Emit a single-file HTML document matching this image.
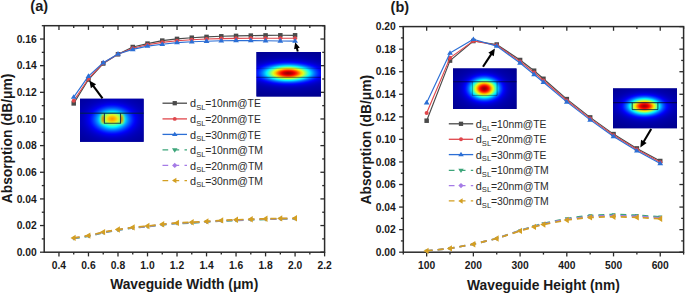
<!DOCTYPE html>
<html><head><meta charset="utf-8"><style>
html,body{margin:0;padding:0;background:#fff;}
body{width:685px;height:294px;overflow:hidden;}
svg{display:block;font-family:"Liberation Sans", sans-serif;}
.tk{font-size:10.3px;font-weight:bold;fill:#1a1a1a;}
.al{font-size:13.8px;font-weight:bold;fill:#1a1a1a;}
.pl{font-size:14.5px;font-weight:bold;fill:#1a1a1a;}
.lg{font-size:10.9px;fill:#2a2a2a;}
.sub{font-size:7.6px;}
</style></head><body>
<svg width="685" height="294" viewBox="0 0 685 294">
<defs><radialGradient id="g1" cx="0.5" cy="0.5" r="0.5"><stop offset="0.0" stop-color="#e5ff19"/><stop offset="0.025" stop-color="#dfff1f"/><stop offset="0.05" stop-color="#cdff31"/><stop offset="0.075" stop-color="#b1ff4d"/><stop offset="0.1" stop-color="#8cff72"/><stop offset="0.125" stop-color="#60ff9e"/><stop offset="0.15" stop-color="#31ffcd"/><stop offset="0.175" stop-color="#00feff"/><stop offset="0.2" stop-color="#00ceff"/><stop offset="0.225" stop-color="#009fff"/><stop offset="0.25" stop-color="#0074ff"/><stop offset="0.275" stop-color="#004eff"/><stop offset="0.3" stop-color="#002dff"/><stop offset="0.325" stop-color="#0011ff"/><stop offset="0.35" stop-color="#0000f8"/><stop offset="0.375" stop-color="#0000e6"/><stop offset="0.4" stop-color="#0000d7"/><stop offset="0.425" stop-color="#0000cb"/><stop offset="0.45" stop-color="#0000c1"/><stop offset="0.475" stop-color="#0000ba"/><stop offset="0.5" stop-color="#0000b4"/><stop offset="0.525" stop-color="#0000af"/><stop offset="0.55" stop-color="#0000ab"/><stop offset="0.575" stop-color="#0000a7"/><stop offset="0.6" stop-color="#0000a4"/><stop offset="0.625" stop-color="#0000a1"/><stop offset="0.65" stop-color="#00009f"/><stop offset="0.675" stop-color="#00009c"/><stop offset="0.7" stop-color="#00009a"/><stop offset="0.725" stop-color="#000098"/><stop offset="0.75" stop-color="#000096"/><stop offset="0.775" stop-color="#000095"/><stop offset="0.8" stop-color="#000093"/><stop offset="0.825" stop-color="#000091"/><stop offset="0.85" stop-color="#000090"/><stop offset="0.875" stop-color="#00008e"/><stop offset="0.9" stop-color="#00008d"/><stop offset="0.925" stop-color="#00008c"/><stop offset="0.95" stop-color="#00008b"/><stop offset="0.975" stop-color="#00008a"/><stop offset="1.0" stop-color="#000089"/></radialGradient><clipPath id="c1"><rect x="80" y="98.8" width="63.6" height="43"/></clipPath><clipPath id="corec"><rect x="104.4" y="113.6" width="16.2" height="9.7"/></clipPath><radialGradient id="core1"><stop offset="0" stop-color="#ff9000"/><stop offset="0.3" stop-color="#ffb800"/><stop offset="0.6" stop-color="#e8f020"/><stop offset="0.85" stop-color="#a0ff60"/><stop offset="1" stop-color="#60ffa0"/></radialGradient><filter id="bl1" x="-100%" y="-50%" width="300%" height="200%"><feGaussianBlur stdDeviation="0.8"/></filter><radialGradient id="g2" cx="0.5" cy="0.5" r="0.5"><stop offset="0.0" stop-color="#9e0000"/><stop offset="0.025" stop-color="#a80000"/><stop offset="0.05" stop-color="#c60000"/><stop offset="0.075" stop-color="#f60000"/><stop offset="0.1" stop-color="#ff3600"/><stop offset="0.125" stop-color="#ff8000"/><stop offset="0.15" stop-color="#ffd000"/><stop offset="0.175" stop-color="#d9ff25"/><stop offset="0.2" stop-color="#86ff78"/><stop offset="0.225" stop-color="#38ffc6"/><stop offset="0.25" stop-color="#00efff"/><stop offset="0.275" stop-color="#00afff"/><stop offset="0.3" stop-color="#0077ff"/><stop offset="0.325" stop-color="#0049ff"/><stop offset="0.35" stop-color="#0023ff"/><stop offset="0.375" stop-color="#0005ff"/><stop offset="0.4" stop-color="#0000ec"/><stop offset="0.425" stop-color="#0000d9"/><stop offset="0.45" stop-color="#0000cb"/><stop offset="0.475" stop-color="#0000c0"/><stop offset="0.5" stop-color="#0000b8"/><stop offset="0.525" stop-color="#0000b1"/><stop offset="0.55" stop-color="#0000ac"/><stop offset="0.575" stop-color="#0000a8"/><stop offset="0.6" stop-color="#0000a5"/><stop offset="0.625" stop-color="#0000a2"/><stop offset="0.65" stop-color="#00009f"/><stop offset="0.675" stop-color="#00009d"/><stop offset="0.7" stop-color="#00009a"/><stop offset="0.725" stop-color="#000098"/><stop offset="0.75" stop-color="#000096"/><stop offset="0.775" stop-color="#000095"/><stop offset="0.8" stop-color="#000093"/><stop offset="0.825" stop-color="#000091"/><stop offset="0.85" stop-color="#000090"/><stop offset="0.875" stop-color="#00008e"/><stop offset="0.9" stop-color="#00008d"/><stop offset="0.925" stop-color="#00008c"/><stop offset="0.95" stop-color="#00008b"/><stop offset="0.975" stop-color="#00008a"/><stop offset="1.0" stop-color="#000089"/></radialGradient><clipPath id="c2"><rect x="256.5" y="52" width="64.5" height="44.4"/></clipPath><radialGradient id="g3" cx="0.5" cy="0.5" r="0.5"><stop offset="0.0" stop-color="#9e0000"/><stop offset="0.025" stop-color="#a80000"/><stop offset="0.05" stop-color="#c60000"/><stop offset="0.075" stop-color="#f60000"/><stop offset="0.1" stop-color="#ff3600"/><stop offset="0.125" stop-color="#ff8000"/><stop offset="0.15" stop-color="#ffd000"/><stop offset="0.175" stop-color="#d9ff25"/><stop offset="0.2" stop-color="#86ff78"/><stop offset="0.225" stop-color="#38ffc6"/><stop offset="0.25" stop-color="#00efff"/><stop offset="0.275" stop-color="#00afff"/><stop offset="0.3" stop-color="#0077ff"/><stop offset="0.325" stop-color="#0049ff"/><stop offset="0.35" stop-color="#0023ff"/><stop offset="0.375" stop-color="#0005ff"/><stop offset="0.4" stop-color="#0000ec"/><stop offset="0.425" stop-color="#0000d9"/><stop offset="0.45" stop-color="#0000cb"/><stop offset="0.475" stop-color="#0000c0"/><stop offset="0.5" stop-color="#0000b8"/><stop offset="0.525" stop-color="#0000b1"/><stop offset="0.55" stop-color="#0000ac"/><stop offset="0.575" stop-color="#0000a8"/><stop offset="0.6" stop-color="#0000a5"/><stop offset="0.625" stop-color="#0000a2"/><stop offset="0.65" stop-color="#00009f"/><stop offset="0.675" stop-color="#00009d"/><stop offset="0.7" stop-color="#00009a"/><stop offset="0.725" stop-color="#000098"/><stop offset="0.75" stop-color="#000096"/><stop offset="0.775" stop-color="#000095"/><stop offset="0.8" stop-color="#000093"/><stop offset="0.825" stop-color="#000091"/><stop offset="0.85" stop-color="#000090"/><stop offset="0.875" stop-color="#00008e"/><stop offset="0.9" stop-color="#00008d"/><stop offset="0.925" stop-color="#00008c"/><stop offset="0.95" stop-color="#00008b"/><stop offset="0.975" stop-color="#00008a"/><stop offset="1.0" stop-color="#000089"/></radialGradient><clipPath id="c3"><rect x="453" y="68.5" width="63.5" height="40.5"/></clipPath><radialGradient id="g4" cx="0.5" cy="0.5" r="0.5"><stop offset="0.0" stop-color="#a80000"/><stop offset="0.025" stop-color="#b20000"/><stop offset="0.05" stop-color="#d00000"/><stop offset="0.075" stop-color="#ff0000"/><stop offset="0.1" stop-color="#ff3e00"/><stop offset="0.125" stop-color="#ff8700"/><stop offset="0.15" stop-color="#ffd700"/><stop offset="0.175" stop-color="#d3ff2b"/><stop offset="0.2" stop-color="#81ff7d"/><stop offset="0.225" stop-color="#34ffca"/><stop offset="0.25" stop-color="#00ebff"/><stop offset="0.275" stop-color="#00acff"/><stop offset="0.3" stop-color="#0075ff"/><stop offset="0.325" stop-color="#0048ff"/><stop offset="0.35" stop-color="#0022ff"/><stop offset="0.375" stop-color="#0004ff"/><stop offset="0.4" stop-color="#0000eb"/><stop offset="0.425" stop-color="#0000d9"/><stop offset="0.45" stop-color="#0000cb"/><stop offset="0.475" stop-color="#0000c0"/><stop offset="0.5" stop-color="#0000b8"/><stop offset="0.525" stop-color="#0000b1"/><stop offset="0.55" stop-color="#0000ac"/><stop offset="0.575" stop-color="#0000a8"/><stop offset="0.6" stop-color="#0000a5"/><stop offset="0.625" stop-color="#0000a2"/><stop offset="0.65" stop-color="#00009f"/><stop offset="0.675" stop-color="#00009d"/><stop offset="0.7" stop-color="#00009a"/><stop offset="0.725" stop-color="#000098"/><stop offset="0.75" stop-color="#000096"/><stop offset="0.775" stop-color="#000095"/><stop offset="0.8" stop-color="#000093"/><stop offset="0.825" stop-color="#000091"/><stop offset="0.85" stop-color="#000090"/><stop offset="0.875" stop-color="#00008e"/><stop offset="0.9" stop-color="#00008d"/><stop offset="0.925" stop-color="#00008c"/><stop offset="0.95" stop-color="#00008b"/><stop offset="0.975" stop-color="#00008a"/><stop offset="1.0" stop-color="#000089"/></radialGradient><clipPath id="c4"><rect x="613" y="88.4" width="64" height="39.8"/></clipPath></defs>
<rect x="44.2" y="25.7" width="280.40" height="226.50" fill="none" stroke="#2b2b2b" stroke-width="1.5"/>
<line x1="58.96" y1="252.2" x2="58.96" y2="256.4" stroke="#2b2b2b" stroke-width="1.3"/>
<line x1="58.96" y1="25.7" x2="58.96" y2="29.9" stroke="#2b2b2b" stroke-width="1.3"/>
<text x="58.96" y="268.8" class="tk" text-anchor="middle">0.4</text>
<line x1="88.47" y1="252.2" x2="88.47" y2="256.4" stroke="#2b2b2b" stroke-width="1.3"/>
<line x1="88.47" y1="25.7" x2="88.47" y2="29.9" stroke="#2b2b2b" stroke-width="1.3"/>
<text x="88.47" y="268.8" class="tk" text-anchor="middle">0.6</text>
<line x1="117.99" y1="252.2" x2="117.99" y2="256.4" stroke="#2b2b2b" stroke-width="1.3"/>
<line x1="117.99" y1="25.7" x2="117.99" y2="29.9" stroke="#2b2b2b" stroke-width="1.3"/>
<text x="117.99" y="268.8" class="tk" text-anchor="middle">0.8</text>
<line x1="147.51" y1="252.2" x2="147.51" y2="256.4" stroke="#2b2b2b" stroke-width="1.3"/>
<line x1="147.51" y1="25.7" x2="147.51" y2="29.9" stroke="#2b2b2b" stroke-width="1.3"/>
<text x="147.51" y="268.8" class="tk" text-anchor="middle">1.0</text>
<line x1="177.02" y1="252.2" x2="177.02" y2="256.4" stroke="#2b2b2b" stroke-width="1.3"/>
<line x1="177.02" y1="25.7" x2="177.02" y2="29.9" stroke="#2b2b2b" stroke-width="1.3"/>
<text x="177.02" y="268.8" class="tk" text-anchor="middle">1.2</text>
<line x1="206.54" y1="252.2" x2="206.54" y2="256.4" stroke="#2b2b2b" stroke-width="1.3"/>
<line x1="206.54" y1="25.7" x2="206.54" y2="29.9" stroke="#2b2b2b" stroke-width="1.3"/>
<text x="206.54" y="268.8" class="tk" text-anchor="middle">1.4</text>
<line x1="236.05" y1="252.2" x2="236.05" y2="256.4" stroke="#2b2b2b" stroke-width="1.3"/>
<line x1="236.05" y1="25.7" x2="236.05" y2="29.9" stroke="#2b2b2b" stroke-width="1.3"/>
<text x="236.05" y="268.8" class="tk" text-anchor="middle">1.6</text>
<line x1="265.57" y1="252.2" x2="265.57" y2="256.4" stroke="#2b2b2b" stroke-width="1.3"/>
<line x1="265.57" y1="25.7" x2="265.57" y2="29.9" stroke="#2b2b2b" stroke-width="1.3"/>
<text x="265.57" y="268.8" class="tk" text-anchor="middle">1.8</text>
<line x1="295.08" y1="252.2" x2="295.08" y2="256.4" stroke="#2b2b2b" stroke-width="1.3"/>
<line x1="295.08" y1="25.7" x2="295.08" y2="29.9" stroke="#2b2b2b" stroke-width="1.3"/>
<text x="295.08" y="268.8" class="tk" text-anchor="middle">2.0</text>
<line x1="324.60" y1="252.2" x2="324.60" y2="256.4" stroke="#2b2b2b" stroke-width="1.3"/>
<line x1="324.60" y1="25.7" x2="324.60" y2="29.9" stroke="#2b2b2b" stroke-width="1.3"/>
<text x="324.60" y="268.8" class="tk" text-anchor="middle">2.2</text>
<line x1="73.72" y1="252.2" x2="73.72" y2="254.6" stroke="#2b2b2b" stroke-width="1.3"/>
<line x1="73.72" y1="25.7" x2="73.72" y2="28.099999999999998" stroke="#2b2b2b" stroke-width="1.3"/>
<line x1="103.23" y1="252.2" x2="103.23" y2="254.6" stroke="#2b2b2b" stroke-width="1.3"/>
<line x1="103.23" y1="25.7" x2="103.23" y2="28.099999999999998" stroke="#2b2b2b" stroke-width="1.3"/>
<line x1="132.75" y1="252.2" x2="132.75" y2="254.6" stroke="#2b2b2b" stroke-width="1.3"/>
<line x1="132.75" y1="25.7" x2="132.75" y2="28.099999999999998" stroke="#2b2b2b" stroke-width="1.3"/>
<line x1="162.26" y1="252.2" x2="162.26" y2="254.6" stroke="#2b2b2b" stroke-width="1.3"/>
<line x1="162.26" y1="25.7" x2="162.26" y2="28.099999999999998" stroke="#2b2b2b" stroke-width="1.3"/>
<line x1="191.78" y1="252.2" x2="191.78" y2="254.6" stroke="#2b2b2b" stroke-width="1.3"/>
<line x1="191.78" y1="25.7" x2="191.78" y2="28.099999999999998" stroke="#2b2b2b" stroke-width="1.3"/>
<line x1="221.29" y1="252.2" x2="221.29" y2="254.6" stroke="#2b2b2b" stroke-width="1.3"/>
<line x1="221.29" y1="25.7" x2="221.29" y2="28.099999999999998" stroke="#2b2b2b" stroke-width="1.3"/>
<line x1="250.81" y1="252.2" x2="250.81" y2="254.6" stroke="#2b2b2b" stroke-width="1.3"/>
<line x1="250.81" y1="25.7" x2="250.81" y2="28.099999999999998" stroke="#2b2b2b" stroke-width="1.3"/>
<line x1="280.33" y1="252.2" x2="280.33" y2="254.6" stroke="#2b2b2b" stroke-width="1.3"/>
<line x1="280.33" y1="25.7" x2="280.33" y2="28.099999999999998" stroke="#2b2b2b" stroke-width="1.3"/>
<line x1="309.84" y1="252.2" x2="309.84" y2="254.6" stroke="#2b2b2b" stroke-width="1.3"/>
<line x1="309.84" y1="25.7" x2="309.84" y2="28.099999999999998" stroke="#2b2b2b" stroke-width="1.3"/>
<line x1="40.0" y1="252.20" x2="44.2" y2="252.20" stroke="#2b2b2b" stroke-width="1.3"/>
<line x1="320.40000000000003" y1="252.20" x2="324.6" y2="252.20" stroke="#2b2b2b" stroke-width="1.3"/>
<text x="36.70" y="255.90" class="tk" text-anchor="end">0.00</text>
<line x1="40.0" y1="225.55" x2="44.2" y2="225.55" stroke="#2b2b2b" stroke-width="1.3"/>
<line x1="320.40000000000003" y1="225.55" x2="324.6" y2="225.55" stroke="#2b2b2b" stroke-width="1.3"/>
<text x="36.70" y="229.25" class="tk" text-anchor="end">0.02</text>
<line x1="40.0" y1="198.91" x2="44.2" y2="198.91" stroke="#2b2b2b" stroke-width="1.3"/>
<line x1="320.40000000000003" y1="198.91" x2="324.6" y2="198.91" stroke="#2b2b2b" stroke-width="1.3"/>
<text x="36.70" y="202.61" class="tk" text-anchor="end">0.04</text>
<line x1="40.0" y1="172.26" x2="44.2" y2="172.26" stroke="#2b2b2b" stroke-width="1.3"/>
<line x1="320.40000000000003" y1="172.26" x2="324.6" y2="172.26" stroke="#2b2b2b" stroke-width="1.3"/>
<text x="36.70" y="175.96" class="tk" text-anchor="end">0.06</text>
<line x1="40.0" y1="145.61" x2="44.2" y2="145.61" stroke="#2b2b2b" stroke-width="1.3"/>
<line x1="320.40000000000003" y1="145.61" x2="324.6" y2="145.61" stroke="#2b2b2b" stroke-width="1.3"/>
<text x="36.70" y="149.31" class="tk" text-anchor="end">0.08</text>
<line x1="40.0" y1="118.96" x2="44.2" y2="118.96" stroke="#2b2b2b" stroke-width="1.3"/>
<line x1="320.40000000000003" y1="118.96" x2="324.6" y2="118.96" stroke="#2b2b2b" stroke-width="1.3"/>
<text x="36.70" y="122.66" class="tk" text-anchor="end">0.10</text>
<line x1="40.0" y1="92.32" x2="44.2" y2="92.32" stroke="#2b2b2b" stroke-width="1.3"/>
<line x1="320.40000000000003" y1="92.32" x2="324.6" y2="92.32" stroke="#2b2b2b" stroke-width="1.3"/>
<text x="36.70" y="96.02" class="tk" text-anchor="end">0.12</text>
<line x1="40.0" y1="65.67" x2="44.2" y2="65.67" stroke="#2b2b2b" stroke-width="1.3"/>
<line x1="320.40000000000003" y1="65.67" x2="324.6" y2="65.67" stroke="#2b2b2b" stroke-width="1.3"/>
<text x="36.70" y="69.37" class="tk" text-anchor="end">0.14</text>
<line x1="40.0" y1="39.02" x2="44.2" y2="39.02" stroke="#2b2b2b" stroke-width="1.3"/>
<line x1="320.40000000000003" y1="39.02" x2="324.6" y2="39.02" stroke="#2b2b2b" stroke-width="1.3"/>
<text x="36.70" y="42.72" class="tk" text-anchor="end">0.16</text>
<line x1="41.800000000000004" y1="238.88" x2="44.2" y2="238.88" stroke="#2b2b2b" stroke-width="1.3"/>
<line x1="322.20000000000005" y1="238.88" x2="324.6" y2="238.88" stroke="#2b2b2b" stroke-width="1.3"/>
<line x1="41.800000000000004" y1="212.23" x2="44.2" y2="212.23" stroke="#2b2b2b" stroke-width="1.3"/>
<line x1="322.20000000000005" y1="212.23" x2="324.6" y2="212.23" stroke="#2b2b2b" stroke-width="1.3"/>
<line x1="41.800000000000004" y1="185.58" x2="44.2" y2="185.58" stroke="#2b2b2b" stroke-width="1.3"/>
<line x1="322.20000000000005" y1="185.58" x2="324.6" y2="185.58" stroke="#2b2b2b" stroke-width="1.3"/>
<line x1="41.800000000000004" y1="158.94" x2="44.2" y2="158.94" stroke="#2b2b2b" stroke-width="1.3"/>
<line x1="322.20000000000005" y1="158.94" x2="324.6" y2="158.94" stroke="#2b2b2b" stroke-width="1.3"/>
<line x1="41.800000000000004" y1="132.29" x2="44.2" y2="132.29" stroke="#2b2b2b" stroke-width="1.3"/>
<line x1="322.20000000000005" y1="132.29" x2="324.6" y2="132.29" stroke="#2b2b2b" stroke-width="1.3"/>
<line x1="41.800000000000004" y1="105.64" x2="44.2" y2="105.64" stroke="#2b2b2b" stroke-width="1.3"/>
<line x1="322.20000000000005" y1="105.64" x2="324.6" y2="105.64" stroke="#2b2b2b" stroke-width="1.3"/>
<line x1="41.800000000000004" y1="78.99" x2="44.2" y2="78.99" stroke="#2b2b2b" stroke-width="1.3"/>
<line x1="322.20000000000005" y1="78.99" x2="324.6" y2="78.99" stroke="#2b2b2b" stroke-width="1.3"/>
<line x1="41.800000000000004" y1="52.35" x2="44.2" y2="52.35" stroke="#2b2b2b" stroke-width="1.3"/>
<line x1="322.20000000000005" y1="52.35" x2="324.6" y2="52.35" stroke="#2b2b2b" stroke-width="1.3"/>
<line x1="41.800000000000004" y1="25.70" x2="44.2" y2="25.70" stroke="#2b2b2b" stroke-width="1.3"/>
<line x1="322.20000000000005" y1="25.70" x2="324.6" y2="25.70" stroke="#2b2b2b" stroke-width="1.3"/>
<rect x="403.3" y="26.6" width="280.30" height="225.60" fill="none" stroke="#2b2b2b" stroke-width="1.5"/>
<line x1="426.66" y1="252.2" x2="426.66" y2="256.4" stroke="#2b2b2b" stroke-width="1.3"/>
<line x1="426.66" y1="26.6" x2="426.66" y2="30.8" stroke="#2b2b2b" stroke-width="1.3"/>
<text x="426.66" y="268.8" class="tk" text-anchor="middle">100</text>
<line x1="473.38" y1="252.2" x2="473.38" y2="256.4" stroke="#2b2b2b" stroke-width="1.3"/>
<line x1="473.38" y1="26.6" x2="473.38" y2="30.8" stroke="#2b2b2b" stroke-width="1.3"/>
<text x="473.38" y="268.8" class="tk" text-anchor="middle">200</text>
<line x1="520.09" y1="252.2" x2="520.09" y2="256.4" stroke="#2b2b2b" stroke-width="1.3"/>
<line x1="520.09" y1="26.6" x2="520.09" y2="30.8" stroke="#2b2b2b" stroke-width="1.3"/>
<text x="520.09" y="268.8" class="tk" text-anchor="middle">300</text>
<line x1="566.81" y1="252.2" x2="566.81" y2="256.4" stroke="#2b2b2b" stroke-width="1.3"/>
<line x1="566.81" y1="26.6" x2="566.81" y2="30.8" stroke="#2b2b2b" stroke-width="1.3"/>
<text x="566.81" y="268.8" class="tk" text-anchor="middle">400</text>
<line x1="613.53" y1="252.2" x2="613.53" y2="256.4" stroke="#2b2b2b" stroke-width="1.3"/>
<line x1="613.53" y1="26.6" x2="613.53" y2="30.8" stroke="#2b2b2b" stroke-width="1.3"/>
<text x="613.53" y="268.8" class="tk" text-anchor="middle">500</text>
<line x1="660.24" y1="252.2" x2="660.24" y2="256.4" stroke="#2b2b2b" stroke-width="1.3"/>
<line x1="660.24" y1="26.6" x2="660.24" y2="30.8" stroke="#2b2b2b" stroke-width="1.3"/>
<text x="660.24" y="268.8" class="tk" text-anchor="middle">600</text>
<line x1="403.30" y1="252.2" x2="403.30" y2="254.6" stroke="#2b2b2b" stroke-width="1.3"/>
<line x1="403.30" y1="26.6" x2="403.30" y2="29.0" stroke="#2b2b2b" stroke-width="1.3"/>
<line x1="450.02" y1="252.2" x2="450.02" y2="254.6" stroke="#2b2b2b" stroke-width="1.3"/>
<line x1="450.02" y1="26.6" x2="450.02" y2="29.0" stroke="#2b2b2b" stroke-width="1.3"/>
<line x1="496.73" y1="252.2" x2="496.73" y2="254.6" stroke="#2b2b2b" stroke-width="1.3"/>
<line x1="496.73" y1="26.6" x2="496.73" y2="29.0" stroke="#2b2b2b" stroke-width="1.3"/>
<line x1="543.45" y1="252.2" x2="543.45" y2="254.6" stroke="#2b2b2b" stroke-width="1.3"/>
<line x1="543.45" y1="26.6" x2="543.45" y2="29.0" stroke="#2b2b2b" stroke-width="1.3"/>
<line x1="590.17" y1="252.2" x2="590.17" y2="254.6" stroke="#2b2b2b" stroke-width="1.3"/>
<line x1="590.17" y1="26.6" x2="590.17" y2="29.0" stroke="#2b2b2b" stroke-width="1.3"/>
<line x1="636.88" y1="252.2" x2="636.88" y2="254.6" stroke="#2b2b2b" stroke-width="1.3"/>
<line x1="636.88" y1="26.6" x2="636.88" y2="29.0" stroke="#2b2b2b" stroke-width="1.3"/>
<line x1="683.60" y1="252.2" x2="683.60" y2="254.6" stroke="#2b2b2b" stroke-width="1.3"/>
<line x1="683.60" y1="26.6" x2="683.60" y2="29.0" stroke="#2b2b2b" stroke-width="1.3"/>
<line x1="399.1" y1="252.20" x2="403.3" y2="252.20" stroke="#2b2b2b" stroke-width="1.3"/>
<line x1="679.4" y1="252.20" x2="683.6" y2="252.20" stroke="#2b2b2b" stroke-width="1.3"/>
<text x="395.80" y="255.90" class="tk" text-anchor="end">0.00</text>
<line x1="399.1" y1="229.64" x2="403.3" y2="229.64" stroke="#2b2b2b" stroke-width="1.3"/>
<line x1="679.4" y1="229.64" x2="683.6" y2="229.64" stroke="#2b2b2b" stroke-width="1.3"/>
<text x="395.80" y="233.34" class="tk" text-anchor="end">0.02</text>
<line x1="399.1" y1="207.08" x2="403.3" y2="207.08" stroke="#2b2b2b" stroke-width="1.3"/>
<line x1="679.4" y1="207.08" x2="683.6" y2="207.08" stroke="#2b2b2b" stroke-width="1.3"/>
<text x="395.80" y="210.78" class="tk" text-anchor="end">0.04</text>
<line x1="399.1" y1="184.52" x2="403.3" y2="184.52" stroke="#2b2b2b" stroke-width="1.3"/>
<line x1="679.4" y1="184.52" x2="683.6" y2="184.52" stroke="#2b2b2b" stroke-width="1.3"/>
<text x="395.80" y="188.22" class="tk" text-anchor="end">0.06</text>
<line x1="399.1" y1="161.96" x2="403.3" y2="161.96" stroke="#2b2b2b" stroke-width="1.3"/>
<line x1="679.4" y1="161.96" x2="683.6" y2="161.96" stroke="#2b2b2b" stroke-width="1.3"/>
<text x="395.80" y="165.66" class="tk" text-anchor="end">0.08</text>
<line x1="399.1" y1="139.40" x2="403.3" y2="139.40" stroke="#2b2b2b" stroke-width="1.3"/>
<line x1="679.4" y1="139.40" x2="683.6" y2="139.40" stroke="#2b2b2b" stroke-width="1.3"/>
<text x="395.80" y="143.10" class="tk" text-anchor="end">0.10</text>
<line x1="399.1" y1="116.84" x2="403.3" y2="116.84" stroke="#2b2b2b" stroke-width="1.3"/>
<line x1="679.4" y1="116.84" x2="683.6" y2="116.84" stroke="#2b2b2b" stroke-width="1.3"/>
<text x="395.80" y="120.54" class="tk" text-anchor="end">0.12</text>
<line x1="399.1" y1="94.28" x2="403.3" y2="94.28" stroke="#2b2b2b" stroke-width="1.3"/>
<line x1="679.4" y1="94.28" x2="683.6" y2="94.28" stroke="#2b2b2b" stroke-width="1.3"/>
<text x="395.80" y="97.98" class="tk" text-anchor="end">0.14</text>
<line x1="399.1" y1="71.72" x2="403.3" y2="71.72" stroke="#2b2b2b" stroke-width="1.3"/>
<line x1="679.4" y1="71.72" x2="683.6" y2="71.72" stroke="#2b2b2b" stroke-width="1.3"/>
<text x="395.80" y="75.42" class="tk" text-anchor="end">0.16</text>
<line x1="399.1" y1="49.16" x2="403.3" y2="49.16" stroke="#2b2b2b" stroke-width="1.3"/>
<line x1="679.4" y1="49.16" x2="683.6" y2="49.16" stroke="#2b2b2b" stroke-width="1.3"/>
<text x="395.80" y="52.86" class="tk" text-anchor="end">0.18</text>
<line x1="399.1" y1="26.60" x2="403.3" y2="26.60" stroke="#2b2b2b" stroke-width="1.3"/>
<line x1="679.4" y1="26.60" x2="683.6" y2="26.60" stroke="#2b2b2b" stroke-width="1.3"/>
<text x="395.80" y="30.30" class="tk" text-anchor="end">0.20</text>
<line x1="400.90000000000003" y1="240.92" x2="403.3" y2="240.92" stroke="#2b2b2b" stroke-width="1.3"/>
<line x1="681.2" y1="240.92" x2="683.6" y2="240.92" stroke="#2b2b2b" stroke-width="1.3"/>
<line x1="400.90000000000003" y1="218.36" x2="403.3" y2="218.36" stroke="#2b2b2b" stroke-width="1.3"/>
<line x1="681.2" y1="218.36" x2="683.6" y2="218.36" stroke="#2b2b2b" stroke-width="1.3"/>
<line x1="400.90000000000003" y1="195.80" x2="403.3" y2="195.80" stroke="#2b2b2b" stroke-width="1.3"/>
<line x1="681.2" y1="195.80" x2="683.6" y2="195.80" stroke="#2b2b2b" stroke-width="1.3"/>
<line x1="400.90000000000003" y1="173.24" x2="403.3" y2="173.24" stroke="#2b2b2b" stroke-width="1.3"/>
<line x1="681.2" y1="173.24" x2="683.6" y2="173.24" stroke="#2b2b2b" stroke-width="1.3"/>
<line x1="400.90000000000003" y1="150.68" x2="403.3" y2="150.68" stroke="#2b2b2b" stroke-width="1.3"/>
<line x1="681.2" y1="150.68" x2="683.6" y2="150.68" stroke="#2b2b2b" stroke-width="1.3"/>
<line x1="400.90000000000003" y1="128.12" x2="403.3" y2="128.12" stroke="#2b2b2b" stroke-width="1.3"/>
<line x1="681.2" y1="128.12" x2="683.6" y2="128.12" stroke="#2b2b2b" stroke-width="1.3"/>
<line x1="400.90000000000003" y1="105.56" x2="403.3" y2="105.56" stroke="#2b2b2b" stroke-width="1.3"/>
<line x1="681.2" y1="105.56" x2="683.6" y2="105.56" stroke="#2b2b2b" stroke-width="1.3"/>
<line x1="400.90000000000003" y1="83.00" x2="403.3" y2="83.00" stroke="#2b2b2b" stroke-width="1.3"/>
<line x1="681.2" y1="83.00" x2="683.6" y2="83.00" stroke="#2b2b2b" stroke-width="1.3"/>
<line x1="400.90000000000003" y1="60.44" x2="403.3" y2="60.44" stroke="#2b2b2b" stroke-width="1.3"/>
<line x1="681.2" y1="60.44" x2="683.6" y2="60.44" stroke="#2b2b2b" stroke-width="1.3"/>
<line x1="400.90000000000003" y1="37.88" x2="403.3" y2="37.88" stroke="#2b2b2b" stroke-width="1.3"/>
<line x1="681.2" y1="37.88" x2="683.6" y2="37.88" stroke="#2b2b2b" stroke-width="1.3"/>
<rect x="80" y="98.8" width="63.6" height="43" fill="#000089"/>
<ellipse clip-path="url(#c1)" cx="112.3" cy="119.4" rx="66.00" ry="43.20" fill="url(#g1)"/>
<ellipse cx="103.3" cy="119" rx="2.6" ry="5.2" fill="#e8f000" fill-opacity="0.75" filter="url(#bl1)"/>
<ellipse cx="121.4" cy="119" rx="2.6" ry="5.2" fill="#e8f000" fill-opacity="0.75" filter="url(#bl1)"/>
<ellipse cx="103.4" cy="119" rx="1.1" ry="3.8" fill="#d85000" filter="url(#bl1)"/>
<ellipse cx="121.3" cy="119" rx="1.1" ry="3.8" fill="#d85000" filter="url(#bl1)"/>
<ellipse clip-path="url(#corec)" cx="112.2" cy="118.9" rx="9.5" ry="6.4" fill="url(#core1)"/>
<rect x="80" y="98.8" width="63.6" height="14.6" fill="#0000c0" fill-opacity="0.08"/>
<line x1="80" y1="113.3" x2="143.6" y2="113.3" stroke="#00204a" stroke-opacity="0.7" stroke-width="1.5"/>
<path d="M104.4,113.3V123.2H120.5V113.3" fill="none" stroke="#06163a" stroke-opacity="0.8" stroke-width="1.1"/>
<rect x="256.5" y="52" width="64.5" height="44.4" fill="#000089"/>
<ellipse clip-path="url(#c2)" cx="288.2" cy="73.2" rx="87.00" ry="29.40" fill="url(#g2)"/>
<line x1="256.5" y1="68.4" x2="321" y2="68.4" stroke="#00003a" stroke-opacity="0.2" stroke-width="0.9"/>
<line x1="256.5" y1="77.3" x2="321" y2="77.3" stroke="#00003a" stroke-opacity="0.55" stroke-width="1.0"/>
<rect x="453" y="68.5" width="63.5" height="40.5" fill="#000089"/>
<ellipse clip-path="url(#c3)" cx="484.3" cy="88.6" rx="51.60" ry="36.60" fill="url(#g3)"/>
<line x1="453" y1="81.7" x2="516.5" y2="81.7" stroke="#00003a" stroke-opacity="0.7" stroke-width="1.1"/>
<path d="M472.3,81.7V95.4H497.1V81.7" fill="none" stroke="#06163a" stroke-opacity="0.5" stroke-width="0.9"/>
<rect x="613" y="88.4" width="64" height="39.8" fill="#000089"/>
<ellipse clip-path="url(#c4)" cx="644.5" cy="106.2" rx="60.00" ry="30.60" fill="url(#g4)"/>
<line x1="613" y1="102.6" x2="677" y2="102.6" stroke="#00003a" stroke-opacity="0.7" stroke-width="1.1"/>
<path d="M632.2,102.6V109.6H657.9000000000001V102.6" fill="none" stroke="#06163a" stroke-opacity="0.8" stroke-width="1.0"/>
<path d="M73.72,238.50L88.47,236.20L103.23,232.70L117.99,230.10L132.75,228.00L147.51,226.60L162.26,224.90L177.02,223.50L191.78,222.90L206.54,222.00L221.29,221.00L236.05,220.40L250.81,219.80L265.57,219.40L280.33,219.00L295.08,218.80" fill="none" stroke="#3da57a" stroke-width="1.7" stroke-linejoin="round" stroke-dasharray="6 5"/>
<path d="M73.72,240.53L75.75,237.28L71.69,237.28Z" fill="#3da57a"/>
<path d="M88.47,238.23L90.50,234.98L86.44,234.98Z" fill="#3da57a"/>
<path d="M103.23,234.73L105.26,231.48L101.20,231.48Z" fill="#3da57a"/>
<path d="M117.99,232.13L120.02,228.88L115.96,228.88Z" fill="#3da57a"/>
<path d="M132.75,230.03L134.78,226.78L130.72,226.78Z" fill="#3da57a"/>
<path d="M147.51,228.63L149.54,225.38L145.48,225.38Z" fill="#3da57a"/>
<path d="M162.26,226.93L164.29,223.68L160.23,223.68Z" fill="#3da57a"/>
<path d="M177.02,225.53L179.05,222.28L174.99,222.28Z" fill="#3da57a"/>
<path d="M191.78,224.93L193.81,221.68L189.75,221.68Z" fill="#3da57a"/>
<path d="M206.54,224.03L208.57,220.78L204.51,220.78Z" fill="#3da57a"/>
<path d="M221.29,223.03L223.32,219.78L219.26,219.78Z" fill="#3da57a"/>
<path d="M236.05,222.43L238.08,219.18L234.02,219.18Z" fill="#3da57a"/>
<path d="M250.81,221.83L252.84,218.58L248.78,218.58Z" fill="#3da57a"/>
<path d="M265.57,221.43L267.60,218.18L263.54,218.18Z" fill="#3da57a"/>
<path d="M280.33,221.03L282.36,217.78L278.30,217.78Z" fill="#3da57a"/>
<path d="M295.08,220.83L297.11,217.58L293.05,217.58Z" fill="#3da57a"/>
<path d="M73.72,238.20L88.47,235.90L103.23,232.40L117.99,229.80L132.75,227.70L147.51,226.30L162.26,224.60L177.02,223.20L191.78,222.60L206.54,221.70L221.29,220.70L236.05,220.10L250.81,219.50L265.57,219.10L280.33,218.70L295.08,218.50" fill="none" stroke="#a57be6" stroke-width="1.7" stroke-linejoin="round" stroke-dasharray="6 5"/>
<path d="M73.72,236.24L75.68,238.20L73.72,240.16L71.76,238.20Z" fill="#a57be6"/>
<path d="M88.47,233.94L90.43,235.90L88.47,237.86L86.51,235.90Z" fill="#a57be6"/>
<path d="M103.23,230.44L105.19,232.40L103.23,234.36L101.27,232.40Z" fill="#a57be6"/>
<path d="M117.99,227.84L119.95,229.80L117.99,231.76L116.03,229.80Z" fill="#a57be6"/>
<path d="M132.75,225.74L134.71,227.70L132.75,229.66L130.79,227.70Z" fill="#a57be6"/>
<path d="M147.51,224.34L149.47,226.30L147.51,228.26L145.55,226.30Z" fill="#a57be6"/>
<path d="M162.26,222.64L164.22,224.60L162.26,226.56L160.30,224.60Z" fill="#a57be6"/>
<path d="M177.02,221.24L178.98,223.20L177.02,225.16L175.06,223.20Z" fill="#a57be6"/>
<path d="M191.78,220.64L193.74,222.60L191.78,224.56L189.82,222.60Z" fill="#a57be6"/>
<path d="M206.54,219.74L208.50,221.70L206.54,223.66L204.58,221.70Z" fill="#a57be6"/>
<path d="M221.29,218.74L223.25,220.70L221.29,222.66L219.33,220.70Z" fill="#a57be6"/>
<path d="M236.05,218.14L238.01,220.10L236.05,222.06L234.09,220.10Z" fill="#a57be6"/>
<path d="M250.81,217.54L252.77,219.50L250.81,221.46L248.85,219.50Z" fill="#a57be6"/>
<path d="M265.57,217.14L267.53,219.10L265.57,221.06L263.61,219.10Z" fill="#a57be6"/>
<path d="M280.33,216.74L282.29,218.70L280.33,220.66L278.37,218.70Z" fill="#a57be6"/>
<path d="M295.08,216.54L297.04,218.50L295.08,220.46L293.12,218.50Z" fill="#a57be6"/>
<path d="M73.72,237.90L88.47,235.60L103.23,232.10L117.99,229.50L132.75,227.40L147.51,226.00L162.26,224.30L177.02,222.90L191.78,222.30L206.54,221.40L221.29,220.40L236.05,219.80L250.81,219.20L265.57,218.80L280.33,218.40L295.08,218.20" fill="none" stroke="#d39f22" stroke-width="1.7" stroke-linejoin="round" stroke-dasharray="6 5"/>
<path d="M70.53,237.90L75.63,234.71L75.63,241.09Z" fill="#d39f22"/>
<path d="M85.28,235.60L90.39,232.41L90.39,238.79Z" fill="#d39f22"/>
<path d="M100.04,232.10L105.15,228.91L105.15,235.29Z" fill="#d39f22"/>
<path d="M114.80,229.50L119.90,226.31L119.90,232.69Z" fill="#d39f22"/>
<path d="M129.56,227.40L134.66,224.21L134.66,230.59Z" fill="#d39f22"/>
<path d="M144.32,226.00L149.42,222.81L149.42,229.19Z" fill="#d39f22"/>
<path d="M159.07,224.30L164.18,221.11L164.18,227.49Z" fill="#d39f22"/>
<path d="M173.83,222.90L178.94,219.71L178.94,226.09Z" fill="#d39f22"/>
<path d="M188.59,222.30L193.69,219.11L193.69,225.49Z" fill="#d39f22"/>
<path d="M203.35,221.40L208.45,218.21L208.45,224.59Z" fill="#d39f22"/>
<path d="M218.10,220.40L223.21,217.21L223.21,223.59Z" fill="#d39f22"/>
<path d="M232.86,219.80L237.97,216.61L237.97,222.99Z" fill="#d39f22"/>
<path d="M247.62,219.20L252.72,216.01L252.72,222.39Z" fill="#d39f22"/>
<path d="M262.38,218.80L267.48,215.61L267.48,221.99Z" fill="#d39f22"/>
<path d="M277.14,218.40L282.24,215.21L282.24,221.59Z" fill="#d39f22"/>
<path d="M291.89,218.20L297.00,215.01L297.00,221.39Z" fill="#d39f22"/>
<path d="M73.72,103.40L88.47,79.50L103.23,63.50L117.99,54.30L132.75,47.00L147.51,43.60L162.26,40.60L177.02,38.90L191.78,37.70L206.54,36.90L221.29,36.30L236.05,35.90L250.81,35.60L265.57,35.40L280.33,35.30L295.08,35.30" fill="none" stroke="#4a4a4a" stroke-width="1.15" stroke-linejoin="round"/>
<rect x="71.47" y="101.15" width="4.50" height="4.50" fill="#4a4a4a"/>
<rect x="86.22" y="77.25" width="4.50" height="4.50" fill="#4a4a4a"/>
<rect x="100.98" y="61.25" width="4.50" height="4.50" fill="#4a4a4a"/>
<rect x="115.74" y="52.05" width="4.50" height="4.50" fill="#4a4a4a"/>
<rect x="130.50" y="44.75" width="4.50" height="4.50" fill="#4a4a4a"/>
<rect x="145.26" y="41.35" width="4.50" height="4.50" fill="#4a4a4a"/>
<rect x="160.01" y="38.35" width="4.50" height="4.50" fill="#4a4a4a"/>
<rect x="174.77" y="36.65" width="4.50" height="4.50" fill="#4a4a4a"/>
<rect x="189.53" y="35.45" width="4.50" height="4.50" fill="#4a4a4a"/>
<rect x="204.29" y="34.65" width="4.50" height="4.50" fill="#4a4a4a"/>
<rect x="219.04" y="34.05" width="4.50" height="4.50" fill="#4a4a4a"/>
<rect x="233.80" y="33.65" width="4.50" height="4.50" fill="#4a4a4a"/>
<rect x="248.56" y="33.35" width="4.50" height="4.50" fill="#4a4a4a"/>
<rect x="263.32" y="33.15" width="4.50" height="4.50" fill="#4a4a4a"/>
<rect x="278.08" y="33.05" width="4.50" height="4.50" fill="#4a4a4a"/>
<rect x="292.83" y="33.05" width="4.50" height="4.50" fill="#4a4a4a"/>
<path d="M73.72,100.80L88.47,78.70L103.23,63.00L117.99,54.20L132.75,48.20L147.51,44.80L162.26,42.40L177.02,40.70L191.78,39.70L206.54,39.00L221.29,38.60L236.05,38.40L250.81,38.30L265.57,38.20L280.33,38.20L295.08,38.20" fill="none" stroke="#e0474c" stroke-width="1.15" stroke-linejoin="round"/>
<circle cx="73.72" cy="100.80" r="2.05" fill="#e0474c"/>
<circle cx="88.47" cy="78.70" r="2.05" fill="#e0474c"/>
<circle cx="103.23" cy="63.00" r="2.05" fill="#e0474c"/>
<circle cx="117.99" cy="54.20" r="2.05" fill="#e0474c"/>
<circle cx="132.75" cy="48.20" r="2.05" fill="#e0474c"/>
<circle cx="147.51" cy="44.80" r="2.05" fill="#e0474c"/>
<circle cx="162.26" cy="42.40" r="2.05" fill="#e0474c"/>
<circle cx="177.02" cy="40.70" r="2.05" fill="#e0474c"/>
<circle cx="191.78" cy="39.70" r="2.05" fill="#e0474c"/>
<circle cx="206.54" cy="39.00" r="2.05" fill="#e0474c"/>
<circle cx="221.29" cy="38.60" r="2.05" fill="#e0474c"/>
<circle cx="236.05" cy="38.40" r="2.05" fill="#e0474c"/>
<circle cx="250.81" cy="38.30" r="2.05" fill="#e0474c"/>
<circle cx="265.57" cy="38.20" r="2.05" fill="#e0474c"/>
<circle cx="280.33" cy="38.20" r="2.05" fill="#e0474c"/>
<circle cx="295.08" cy="38.20" r="2.05" fill="#e0474c"/>
<path d="M73.72,97.10L88.47,76.20L103.23,62.70L117.99,54.00L132.75,49.40L147.51,46.10L162.26,44.30L177.02,42.60L191.78,41.80L206.54,41.20L221.29,40.80L236.05,40.60L250.81,40.60L265.57,40.80L280.33,41.00L295.08,41.10" fill="none" stroke="#2c6fd5" stroke-width="1.15" stroke-linejoin="round"/>
<path d="M73.72,94.20L76.62,98.84L70.82,98.84Z" fill="#2c6fd5"/>
<path d="M88.47,73.30L91.37,77.94L85.57,77.94Z" fill="#2c6fd5"/>
<path d="M103.23,59.80L106.13,64.44L100.33,64.44Z" fill="#2c6fd5"/>
<path d="M117.99,51.10L120.89,55.74L115.09,55.74Z" fill="#2c6fd5"/>
<path d="M132.75,46.50L135.65,51.14L129.85,51.14Z" fill="#2c6fd5"/>
<path d="M147.51,43.20L150.41,47.84L144.61,47.84Z" fill="#2c6fd5"/>
<path d="M162.26,41.40L165.16,46.04L159.36,46.04Z" fill="#2c6fd5"/>
<path d="M177.02,39.70L179.92,44.34L174.12,44.34Z" fill="#2c6fd5"/>
<path d="M191.78,38.90L194.68,43.54L188.88,43.54Z" fill="#2c6fd5"/>
<path d="M206.54,38.30L209.44,42.94L203.64,42.94Z" fill="#2c6fd5"/>
<path d="M221.29,37.90L224.19,42.54L218.39,42.54Z" fill="#2c6fd5"/>
<path d="M236.05,37.70L238.95,42.34L233.15,42.34Z" fill="#2c6fd5"/>
<path d="M250.81,37.70L253.71,42.34L247.91,42.34Z" fill="#2c6fd5"/>
<path d="M265.57,37.90L268.47,42.54L262.67,42.54Z" fill="#2c6fd5"/>
<path d="M280.33,38.10L283.23,42.74L277.43,42.74Z" fill="#2c6fd5"/>
<path d="M295.08,38.20L297.98,42.84L292.18,42.84Z" fill="#2c6fd5"/>
<path d="M426.66,250.90L450.02,248.40L473.38,244.20L496.73,238.50L520.09,230.40L534.11,226.10L543.45,223.50L566.81,218.50L590.17,215.40L613.53,214.50L636.88,215.20L660.24,216.80" fill="none" stroke="#3da57a" stroke-width="1.7" stroke-linejoin="round" stroke-dasharray="6 5"/>
<path d="M426.66,252.93L428.69,249.68L424.63,249.68Z" fill="#3da57a"/>
<path d="M450.02,250.43L452.05,247.18L447.99,247.18Z" fill="#3da57a"/>
<path d="M473.38,246.23L475.40,242.98L471.35,242.98Z" fill="#3da57a"/>
<path d="M496.73,240.53L498.76,237.28L494.70,237.28Z" fill="#3da57a"/>
<path d="M520.09,232.43L522.12,229.18L518.06,229.18Z" fill="#3da57a"/>
<path d="M534.11,228.13L536.14,224.88L532.08,224.88Z" fill="#3da57a"/>
<path d="M543.45,225.53L545.48,222.28L541.42,222.28Z" fill="#3da57a"/>
<path d="M566.81,220.53L568.84,217.28L564.78,217.28Z" fill="#3da57a"/>
<path d="M590.17,217.43L592.20,214.18L588.14,214.18Z" fill="#3da57a"/>
<path d="M613.53,216.53L615.56,213.28L611.50,213.28Z" fill="#3da57a"/>
<path d="M636.88,217.23L638.91,213.98L634.85,213.98Z" fill="#3da57a"/>
<path d="M660.24,218.83L662.27,215.58L658.21,215.58Z" fill="#3da57a"/>
<path d="M426.66,250.90L450.02,248.40L473.38,244.20L496.73,238.50L520.09,230.60L534.11,226.50L543.45,224.00L566.81,219.20L590.17,216.40L613.53,215.60L636.88,216.30L660.24,217.80" fill="none" stroke="#a57be6" stroke-width="1.7" stroke-linejoin="round" stroke-dasharray="6 5"/>
<path d="M426.66,248.94L428.62,250.90L426.66,252.86L424.70,250.90Z" fill="#a57be6"/>
<path d="M450.02,246.44L451.98,248.40L450.02,250.36L448.06,248.40Z" fill="#a57be6"/>
<path d="M473.38,242.24L475.33,244.20L473.38,246.16L471.42,244.20Z" fill="#a57be6"/>
<path d="M496.73,236.54L498.69,238.50L496.73,240.46L494.77,238.50Z" fill="#a57be6"/>
<path d="M520.09,228.64L522.05,230.60L520.09,232.56L518.13,230.60Z" fill="#a57be6"/>
<path d="M534.11,224.54L536.07,226.50L534.11,228.46L532.15,226.50Z" fill="#a57be6"/>
<path d="M543.45,222.04L545.41,224.00L543.45,225.96L541.49,224.00Z" fill="#a57be6"/>
<path d="M566.81,217.24L568.77,219.20L566.81,221.16L564.85,219.20Z" fill="#a57be6"/>
<path d="M590.17,214.44L592.13,216.40L590.17,218.36L588.21,216.40Z" fill="#a57be6"/>
<path d="M613.53,213.64L615.49,215.60L613.53,217.56L611.57,215.60Z" fill="#a57be6"/>
<path d="M636.88,214.34L638.84,216.30L636.88,218.26L634.92,216.30Z" fill="#a57be6"/>
<path d="M660.24,215.84L662.20,217.80L660.24,219.76L658.28,217.80Z" fill="#a57be6"/>
<path d="M426.66,250.90L450.02,248.40L473.38,244.20L496.73,238.50L520.09,230.90L534.11,226.90L543.45,224.50L566.81,220.00L590.17,217.40L613.53,216.70L636.88,217.40L660.24,218.80" fill="none" stroke="#d39f22" stroke-width="1.7" stroke-linejoin="round" stroke-dasharray="6 5"/>
<path d="M423.47,250.90L428.57,247.71L428.57,254.09Z" fill="#d39f22"/>
<path d="M446.83,248.40L451.93,245.21L451.93,251.59Z" fill="#d39f22"/>
<path d="M470.19,244.20L475.29,241.01L475.29,247.39Z" fill="#d39f22"/>
<path d="M493.54,238.50L498.65,235.31L498.65,241.69Z" fill="#d39f22"/>
<path d="M516.90,230.90L522.01,227.71L522.01,234.09Z" fill="#d39f22"/>
<path d="M530.92,226.90L536.02,223.71L536.02,230.09Z" fill="#d39f22"/>
<path d="M540.26,224.50L545.36,221.31L545.36,227.69Z" fill="#d39f22"/>
<path d="M563.62,220.00L568.72,216.81L568.72,223.19Z" fill="#d39f22"/>
<path d="M586.98,217.40L592.08,214.21L592.08,220.59Z" fill="#d39f22"/>
<path d="M610.34,216.70L615.44,213.51L615.44,219.89Z" fill="#d39f22"/>
<path d="M633.69,217.40L638.80,214.21L638.80,220.59Z" fill="#d39f22"/>
<path d="M657.05,218.80L662.16,215.61L662.16,221.99Z" fill="#d39f22"/>
<path d="M426.66,120.70L450.02,60.60L473.38,41.00L496.73,44.50L520.09,60.00L534.11,70.70L543.45,78.80L566.81,99.10L590.17,117.40L613.53,134.10L636.88,148.40L660.24,161.00" fill="none" stroke="#4a4a4a" stroke-width="1.15" stroke-linejoin="round"/>
<rect x="424.41" y="118.45" width="4.50" height="4.50" fill="#4a4a4a"/>
<rect x="447.77" y="58.35" width="4.50" height="4.50" fill="#4a4a4a"/>
<rect x="471.12" y="38.75" width="4.50" height="4.50" fill="#4a4a4a"/>
<rect x="494.48" y="42.25" width="4.50" height="4.50" fill="#4a4a4a"/>
<rect x="517.84" y="57.75" width="4.50" height="4.50" fill="#4a4a4a"/>
<rect x="531.86" y="68.45" width="4.50" height="4.50" fill="#4a4a4a"/>
<rect x="541.20" y="76.55" width="4.50" height="4.50" fill="#4a4a4a"/>
<rect x="564.56" y="96.85" width="4.50" height="4.50" fill="#4a4a4a"/>
<rect x="587.92" y="115.15" width="4.50" height="4.50" fill="#4a4a4a"/>
<rect x="611.28" y="131.85" width="4.50" height="4.50" fill="#4a4a4a"/>
<rect x="634.63" y="146.15" width="4.50" height="4.50" fill="#4a4a4a"/>
<rect x="657.99" y="158.75" width="4.50" height="4.50" fill="#4a4a4a"/>
<path d="M426.66,113.00L450.02,57.90L473.38,40.90L496.73,45.30L520.09,61.50L534.11,72.60L543.45,80.50L566.81,100.50L590.17,118.60L613.53,135.30L636.88,149.60L660.24,162.20" fill="none" stroke="#e0474c" stroke-width="1.15" stroke-linejoin="round"/>
<circle cx="426.66" cy="113.00" r="2.05" fill="#e0474c"/>
<circle cx="450.02" cy="57.90" r="2.05" fill="#e0474c"/>
<circle cx="473.38" cy="40.90" r="2.05" fill="#e0474c"/>
<circle cx="496.73" cy="45.30" r="2.05" fill="#e0474c"/>
<circle cx="520.09" cy="61.50" r="2.05" fill="#e0474c"/>
<circle cx="534.11" cy="72.60" r="2.05" fill="#e0474c"/>
<circle cx="543.45" cy="80.50" r="2.05" fill="#e0474c"/>
<circle cx="566.81" cy="100.50" r="2.05" fill="#e0474c"/>
<circle cx="590.17" cy="118.60" r="2.05" fill="#e0474c"/>
<circle cx="613.53" cy="135.30" r="2.05" fill="#e0474c"/>
<circle cx="636.88" cy="149.60" r="2.05" fill="#e0474c"/>
<circle cx="660.24" cy="162.20" r="2.05" fill="#e0474c"/>
<path d="M426.66,102.70L450.02,53.10L473.38,39.30L496.73,46.10L520.09,63.00L534.11,74.50L543.45,82.20L566.81,101.90L590.17,119.90L613.53,136.50L636.88,150.80L660.24,163.50" fill="none" stroke="#2c6fd5" stroke-width="1.15" stroke-linejoin="round"/>
<path d="M426.66,99.80L429.56,104.44L423.76,104.44Z" fill="#2c6fd5"/>
<path d="M450.02,50.20L452.92,54.84L447.12,54.84Z" fill="#2c6fd5"/>
<path d="M473.38,36.40L476.27,41.04L470.48,41.04Z" fill="#2c6fd5"/>
<path d="M496.73,43.20L499.63,47.84L493.83,47.84Z" fill="#2c6fd5"/>
<path d="M520.09,60.10L522.99,64.74L517.19,64.74Z" fill="#2c6fd5"/>
<path d="M534.11,71.60L537.01,76.24L531.21,76.24Z" fill="#2c6fd5"/>
<path d="M543.45,79.30L546.35,83.94L540.55,83.94Z" fill="#2c6fd5"/>
<path d="M566.81,99.00L569.71,103.64L563.91,103.64Z" fill="#2c6fd5"/>
<path d="M590.17,117.00L593.07,121.64L587.27,121.64Z" fill="#2c6fd5"/>
<path d="M613.53,133.60L616.43,138.24L610.63,138.24Z" fill="#2c6fd5"/>
<path d="M636.88,147.90L639.78,152.54L633.98,152.54Z" fill="#2c6fd5"/>
<path d="M660.24,160.60L663.14,165.24L657.34,165.24Z" fill="#2c6fd5"/>
<line x1="102.50" y1="98.30" x2="92.89" y2="85.41" stroke="#000" stroke-width="2.1"/>
<path d="M89.30,80.60L96.09,84.27L90.88,88.15Z" fill="#000"/>
<line x1="297.80" y1="51.60" x2="296.68" y2="47.60" stroke="#000" stroke-width="2.0"/>
<path d="M295.20,42.30L299.84,47.75L294.06,49.37Z" fill="#000"/>
<line x1="483.00" y1="66.80" x2="491.62" y2="53.62" stroke="#000" stroke-width="2.1"/>
<path d="M494.90,48.60L493.79,56.24L488.35,52.68Z" fill="#000"/>
<line x1="651.20" y1="129.00" x2="643.35" y2="142.33" stroke="#000" stroke-width="2.1"/>
<path d="M640.30,147.50L641.05,139.82L646.65,143.12Z" fill="#000"/>
<line x1="162.5" y1="103.2" x2="187.0" y2="103.2" stroke="#4a4a4a" stroke-width="1.3"/>
<rect x="172.61" y="101.06" width="4.27" height="4.27" fill="#4a4a4a"/>
<text x="190.1" y="107.30" class="lg">d<tspan class="sub" dy="2.7">SL</tspan></text>
<text x="205.20" y="107.30" class="lg" textLength="55.6" lengthAdjust="spacingAndGlyphs">=10nm@TE</text>
<line x1="162.5" y1="118.9" x2="187.0" y2="118.9" stroke="#e0474c" stroke-width="1.3"/>
<circle cx="174.75" cy="118.90" r="1.95" fill="#e0474c"/>
<text x="190.1" y="123.00" class="lg">d<tspan class="sub" dy="2.7">SL</tspan></text>
<text x="205.20" y="123.00" class="lg" textLength="55.6" lengthAdjust="spacingAndGlyphs">=20nm@TE</text>
<line x1="162.5" y1="134.4" x2="187.0" y2="134.4" stroke="#2c6fd5" stroke-width="1.3"/>
<path d="M174.75,131.65L177.50,136.05L172.00,136.05Z" fill="#2c6fd5"/>
<text x="190.1" y="138.50" class="lg">d<tspan class="sub" dy="2.7">SL</tspan></text>
<text x="205.20" y="138.50" class="lg" textLength="55.6" lengthAdjust="spacingAndGlyphs">=30nm@TE</text>
<line x1="162.5" y1="149.9" x2="187.0" y2="149.9" stroke="#3da57a" stroke-width="1.3" stroke-dasharray="5.7 5.3"/>
<path d="M174.75,152.66L177.50,148.25L172.00,148.25Z" fill="#3da57a"/>
<text x="190.1" y="154.00" class="lg">d<tspan class="sub" dy="2.7">SL</tspan></text>
<text x="205.20" y="154.00" class="lg" textLength="57.8" lengthAdjust="spacingAndGlyphs">=10nm@TM</text>
<line x1="162.5" y1="165.4" x2="187.0" y2="165.4" stroke="#a57be6" stroke-width="1.3" stroke-dasharray="5.7 5.3"/>
<path d="M174.75,162.74L177.41,165.40L174.75,168.06L172.09,165.40Z" fill="#a57be6"/>
<text x="190.1" y="169.50" class="lg">d<tspan class="sub" dy="2.7">SL</tspan></text>
<text x="205.20" y="169.50" class="lg" textLength="57.8" lengthAdjust="spacingAndGlyphs">=20nm@TM</text>
<line x1="162.5" y1="180.6" x2="187.0" y2="180.6" stroke="#d39f22" stroke-width="1.3" stroke-dasharray="5.7 5.3"/>
<path d="M172.00,180.60L176.40,177.84L176.40,183.35Z" fill="#d39f22"/>
<text x="190.1" y="184.70" class="lg">d<tspan class="sub" dy="2.7">SL</tspan></text>
<text x="205.20" y="184.70" class="lg" textLength="57.8" lengthAdjust="spacingAndGlyphs">=30nm@TM</text>
<line x1="448.8" y1="123.8" x2="473.2" y2="123.8" stroke="#4a4a4a" stroke-width="1.3"/>
<rect x="458.86" y="121.66" width="4.27" height="4.27" fill="#4a4a4a"/>
<text x="475.8" y="127.90" class="lg">d<tspan class="sub" dy="2.7">SL</tspan></text>
<text x="490.90" y="127.90" class="lg" textLength="55.6" lengthAdjust="spacingAndGlyphs">=10nm@TE</text>
<line x1="448.8" y1="139.3" x2="473.2" y2="139.3" stroke="#e0474c" stroke-width="1.3"/>
<circle cx="461.00" cy="139.30" r="1.95" fill="#e0474c"/>
<text x="475.8" y="143.40" class="lg">d<tspan class="sub" dy="2.7">SL</tspan></text>
<text x="490.90" y="143.40" class="lg" textLength="55.6" lengthAdjust="spacingAndGlyphs">=20nm@TE</text>
<line x1="448.8" y1="154.6" x2="473.2" y2="154.6" stroke="#2c6fd5" stroke-width="1.3"/>
<path d="M461.00,151.84L463.75,156.25L458.25,156.25Z" fill="#2c6fd5"/>
<text x="475.8" y="158.70" class="lg">d<tspan class="sub" dy="2.7">SL</tspan></text>
<text x="490.90" y="158.70" class="lg" textLength="55.6" lengthAdjust="spacingAndGlyphs">=30nm@TE</text>
<line x1="448.8" y1="170.3" x2="473.2" y2="170.3" stroke="#3da57a" stroke-width="1.3" stroke-dasharray="5.7 5.3"/>
<path d="M461.00,173.06L463.75,168.65L458.25,168.65Z" fill="#3da57a"/>
<text x="475.8" y="174.40" class="lg">d<tspan class="sub" dy="2.7">SL</tspan></text>
<text x="490.90" y="174.40" class="lg" textLength="57.8" lengthAdjust="spacingAndGlyphs">=10nm@TM</text>
<line x1="448.8" y1="185.6" x2="473.2" y2="185.6" stroke="#a57be6" stroke-width="1.3" stroke-dasharray="5.7 5.3"/>
<path d="M461.00,182.94L463.66,185.60L461.00,188.26L458.34,185.60Z" fill="#a57be6"/>
<text x="475.8" y="189.70" class="lg">d<tspan class="sub" dy="2.7">SL</tspan></text>
<text x="490.90" y="189.70" class="lg" textLength="57.8" lengthAdjust="spacingAndGlyphs">=20nm@TM</text>
<line x1="448.8" y1="200.9" x2="473.2" y2="200.9" stroke="#d39f22" stroke-width="1.3" stroke-dasharray="5.7 5.3"/>
<path d="M458.25,200.90L462.65,198.15L462.65,203.66Z" fill="#d39f22"/>
<text x="475.8" y="205.00" class="lg">d<tspan class="sub" dy="2.7">SL</tspan></text>
<text x="490.90" y="205.00" class="lg" textLength="57.8" lengthAdjust="spacingAndGlyphs">=30nm@TM</text>
<text x="30.3" y="11.4" class="pl">(a)</text>
<text x="390.6" y="11.6" class="pl">(b)</text>
<text x="184.2" y="289.2" class="al" text-anchor="middle">Waveguide Width (μm)</text>
<text x="543.5" y="289.6" class="al" text-anchor="middle">Waveguide Height (nm)</text>
<text transform="translate(12.2,138.5) rotate(-90)" class="al" text-anchor="middle">Absorption (dB/μm)</text>
<text transform="translate(371.2,139.7) rotate(-90)" class="al" text-anchor="middle">Absorption (dB/μm)</text>
</svg></body></html>
